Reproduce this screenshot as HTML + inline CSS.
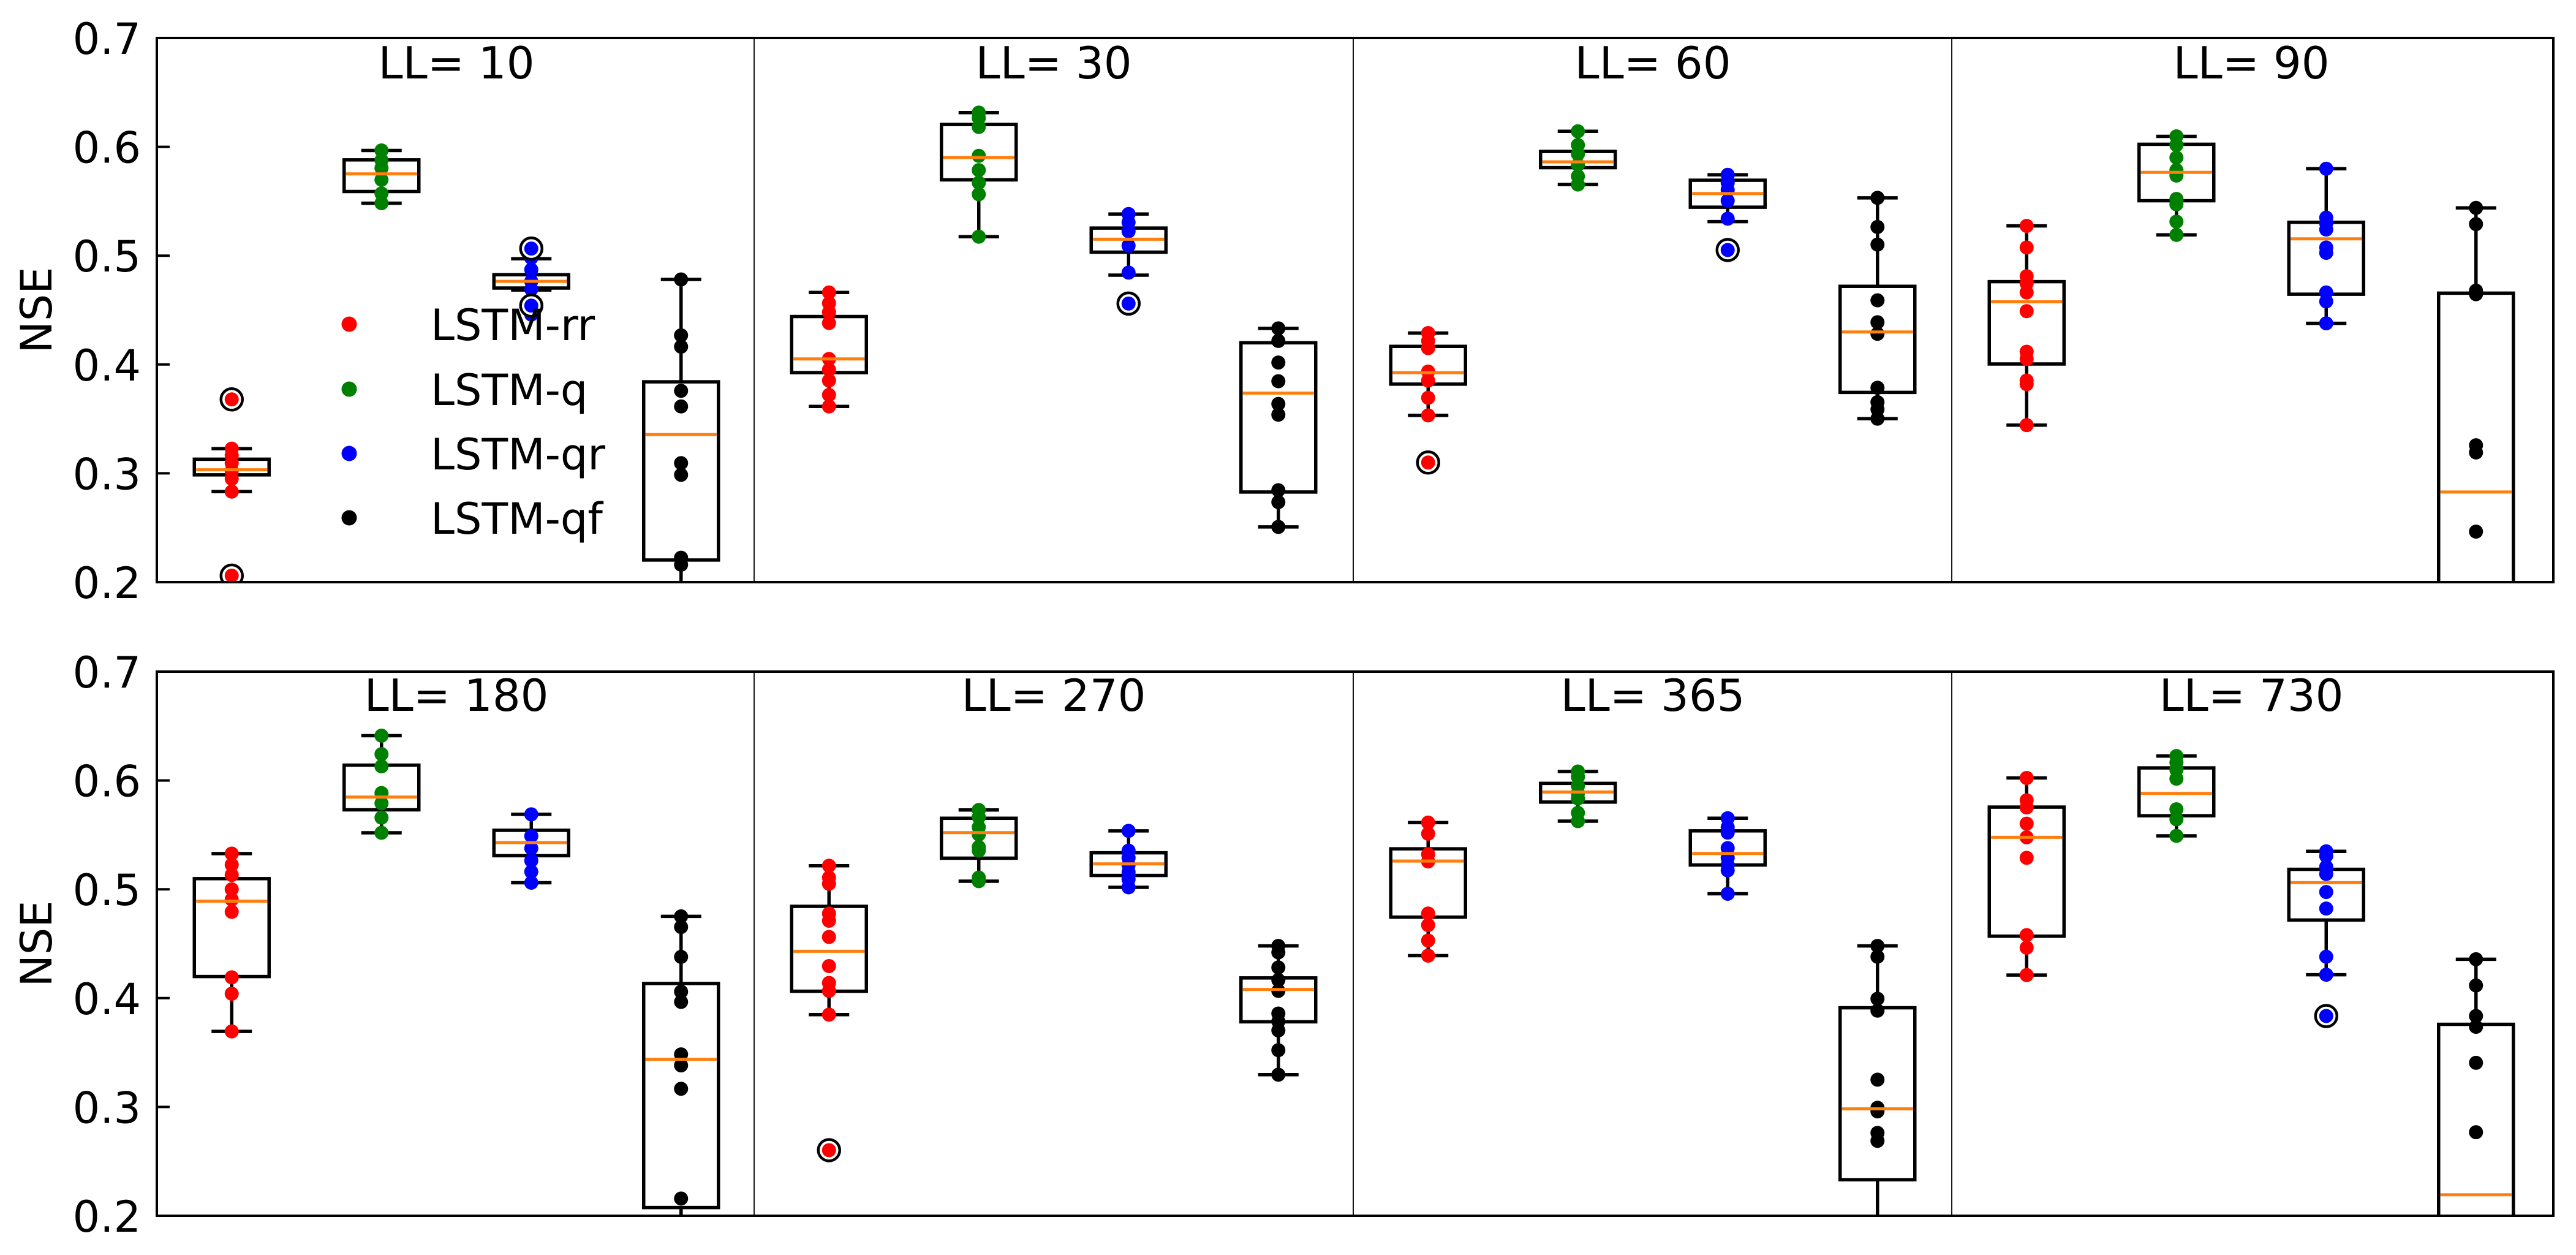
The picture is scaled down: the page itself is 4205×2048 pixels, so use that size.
<!DOCTYPE html>
<html><head><meta charset="utf-8"><style>
html,body{margin:0;padding:0;background:#fff;}
svg{display:block;}
text{font-family:"DejaVu Sans","Liberation Sans",sans-serif;fill:#000;}
</style></head><body>
<svg id="s" width="4205" height="2048" viewBox="0 0 4205 2048" xmlns="http://www.w3.org/2000/svg">
<defs>
<clipPath id="ct"><rect x="256" y="62" width="3912" height="888"/></clipPath>
<clipPath id="cb"><rect x="256" y="1096" width="3912" height="888"/></clipPath>
</defs>
<g id="content"></g>
</svg>
<script>
var NS="http://www.w3.org/2000/svg";
var root=document.getElementById('content');
function el(tag,attrs,parent,txt){
  if(typeof parent==='string'){txt=parent;parent=null;}
  var e=document.createElementNS(NS,tag);
  for(var k in attrs)e.setAttribute(k,attrs[k]);
  if(txt!==undefined&&txt!==null)e.textContent=txt;
  (parent||root).appendChild(e);return e;}
var L=256,R=4168,secs=[256,1231,2209,3186],W=978;
var axes=[{top:62,bot:950,clip:'ct'},{top:1096,bot:1984,clip:'cb'}];
var cols=['#ff0000','#008000','#0000ff','#000000'];
var f1=function(z){return z/1.568;}, f2=function(z){return 1000+z/1.496;};
var fT=function(z){return 40+z/1.704;}, fB=function(z){return 1080+z/1.704;};
var P=[
{r:0,s:0,t:'LL= 10',f:f1,b:[
 [1148,1175,1202,1215,1258,[1148,1165,1185,1205,1225,1258],[1022,1473]],
 [385,409,445,490,520,[385,410,430,460,495,520],[]],
 [662,703,720,737,742,[660,690,720,740,805],[636,782]],
 [715,977,1112,1433,1600,[715,858,887,1000,1040,1185,1215,1427,1445],[]]]},
{r:0,s:1,t:'LL= 30',f:fT,b:[
 [745,812,930,968,1062,[745,775,800,830,930,960,990,1030,1062],[]],
 [245,278,370,432,590,[245,260,285,365,405,440,472,590],[]],
 [527,566,597,633,697,[527,550,575,615,690],[776]],
 [845,885,1025,1300,1397,[845,880,940,992,1055,1085,1295,1328,1397],[]]]},
{r:0,s:2,t:'LL= 60',f:fT,b:[
 [858,895,968,1000,1087,[858,880,900,965,990,1038,1087],[1218]],
 [297,353,382,398,445,[297,335,360,390,422,445],[]],
 [418,433,470,508,548,[418,440,460,490,540],[627]],
 [482,728,855,1023,1096,[482,563,612,767,828,860,1010,1050,1070,1096],[]]]},
{r:0,s:3,t:'LL= 90',f:fT,b:[
 [560,715,771,944,1114,[560,620,700,720,745,797,910,930,990,1000,1114],[]],
 [311,333,411,490,585,[311,335,370,405,420,485,500,548,585],[]],
 [401,550,596,750,831,[401,537,553,570,620,635,745,770,831],[]],
 [510,747,1300,1700,1800,[510,555,740,750,1170,1190,1410],[]]]},
{r:1,s:0,t:'LL= 180',f:f2,b:[
 [588,649,704,888,1022,[588,615,640,675,700,730,890,930,1022],[]],
 [300,372,450,481,537,[300,345,375,440,465,500,537],[]],
 [492,531,561,593,659,[492,545,575,605,632,659],[]],
 [741,905,1090,1452,1600,[741,767,840,925,950,1078,1105,1162,1430],[]]]},
{r:1,s:1,t:'LL= 270',f:fB,b:[
 [567,680,805,916,981,[567,600,617,700,720,765,846,893,915,981],[1358]],
 [412,435,475,546,610,[412,432,460,480,515,525,600,610],[]],
 [470,531,562,594,627,[470,525,545,565,585,605,627],[]],
 [790,879,911,1001,1148,[790,808,850,885,915,978,1000,1025,1080,1148],[]]]},
{r:1,s:2,t:'LL= 365',f:fB,b:[
 [447,520,554,710,817,[447,478,535,555,700,732,775,817],[]],
 [305,338,362,390,443,[305,320,345,365,380,420,443],[]],
 [435,470,533,565,645,[435,460,475,518,545,565,580,645],[]],
 [790,962,1243,1440,1700,[790,820,937,970,1162,1240,1250,1310,1332],[]]]},
{r:1,s:3,t:'LL= 730',f:fB,b:[
 [323,404,488,763,871,[323,385,405,450,488,545,760,795,871],[]],
 [262,295,366,428,484,[262,280,300,325,410,438,484],[]],
 [527,577,614,718,870,[527,540,570,590,640,686,820,870],[985]],
 [827,1008,1482,1700,1800,[827,900,985,1015,1115,1308],[]]]}
];
axes.forEach(function(a){
  for(var i=1;i<4;i++) el('line',{x1:secs[i],x2:secs[i],y1:a.top,y2:a.bot,stroke:'#000','stroke-width':1.8});
  for(var k=0;k<=5;k++){var v=0.2+k*0.1;var y=a.bot-(v-0.2)/0.5*(a.bot-a.top);
    el('line',{x1:L,x2:L+21,y1:y,y2:y,stroke:'#000','stroke-width':4});
    el('text',{x:230,y:y+26,'text-anchor':'end','font-size':70},null,v.toFixed(1));}
  var cy=(a.top+a.bot)/2;
  el('text',{x:0,y:0,'font-size':70,'text-anchor':'middle',transform:'translate(84,'+cy+') rotate(-90)'},null,'NSE');
});
P.forEach(function(p){
  var a=axes[p.r];var g=el('g',{'clip-path':'url(#'+a.clip+')'});
  var x0=secs[p.s];
  el('text',{x:x0+W/2,y:(p.r==0?128:1160),'text-anchor':'middle','font-size':72},null,p.t);
  p.b.forEach(function(b,i){
    var cx=x0+122.25+i*244.5,f=p.f;
    var wt=f(b[0]),q3=f(b[1]),md=f(b[2]),q1=f(b[3]),wl=f(b[4]);
    el('line',{x1:cx,x2:cx,y1:wt,y2:q3,stroke:'#000','stroke-width':5.5},g);
    el('line',{x1:cx,x2:cx,y1:q1,y2:wl,stroke:'#000','stroke-width':5.5},g);
    el('line',{x1:cx-33,x2:cx+33,y1:wt,y2:wt,stroke:'#000','stroke-width':5.5},g);
    el('line',{x1:cx-33,x2:cx+33,y1:wl,y2:wl,stroke:'#000','stroke-width':5.5},g);
    el('rect',{x:cx-61,y:q3,width:122,height:q1-q3,fill:'none',stroke:'#000','stroke-width':5.5},g);
    b[5].forEach(function(z){el('circle',{cx:cx,cy:f(z),r:11.5,fill:cols[i]},g);});
    b[6].forEach(function(z){el('circle',{cx:cx,cy:f(z),r:17.5,fill:'#fff',stroke:'#000','stroke-width':4.5},g);
      el('circle',{cx:cx,cy:f(z),r:11.5,fill:cols[i]},g);});
    el('line',{x1:cx-58,x2:cx+58,y1:md,y2:md,stroke:'#ff7f0e','stroke-width':5},g);
  });
});
axes.forEach(function(a){el('rect',{x:L,y:a.top,width:R-L,height:a.bot-a.top,fill:'none',stroke:'#000','stroke-width':4});});
var names=['LSTM-rr','LSTM-q','LSTM-qr','LSTM-qf'],ly=[529,635,740,845];
for(var i=0;i<4;i++){el('circle',{cx:570,cy:ly[i],r:12.5,fill:cols[i]});
  el('text',{x:703,y:ly[i]+26,'font-size':70},null,names[i]);}
</script>
</body></html>
